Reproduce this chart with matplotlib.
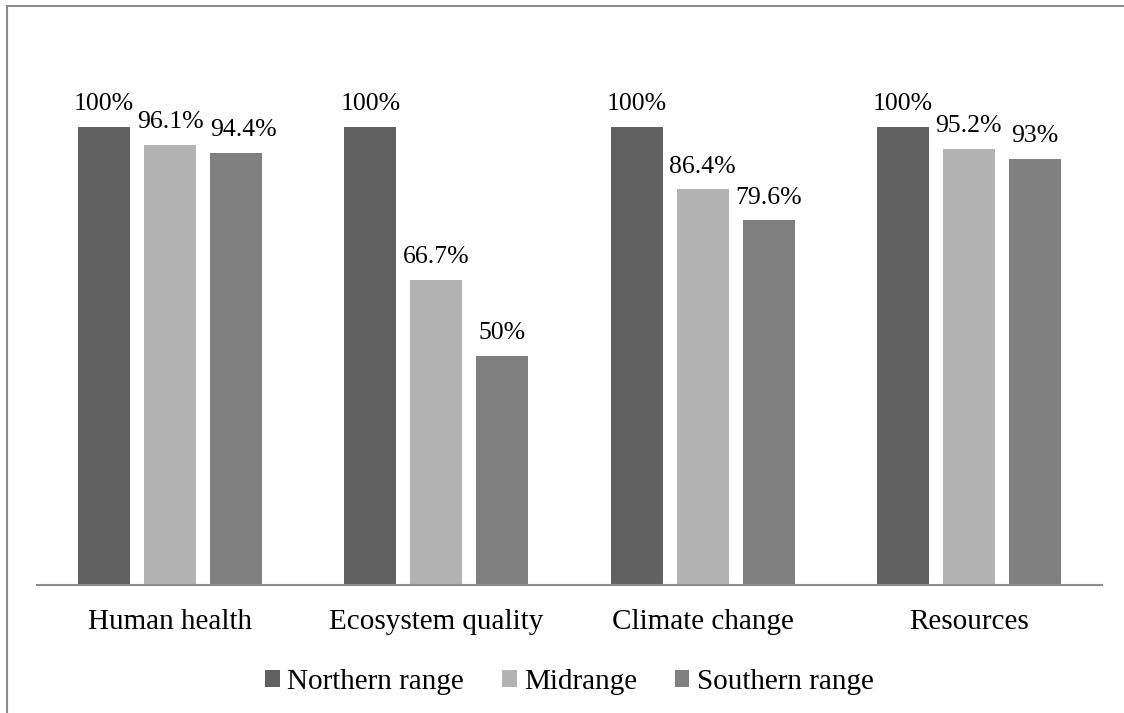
import numpy as np
import matplotlib.pyplot as plt
from matplotlib.patches import Rectangle

categories = ["Human health", "Ecosystem quality", "Climate change", "Resources"]
series = ["Northern range", "Midrange", "Southern range"]
northern = [100, 100, 100, 100]
midrange = [96.1, 66.7, 86.4, 95.2]
southern = [94.4, 50, 79.6, 93]
labels = [["100%", "100%", "100%", "100%"],
          ["96.1%", "66.7%", "86.4%", "95.2%"],
          ["94.4%", "50%", "79.6%", "93%"]]

colors = ["#616161", "#b3b3b3", "#808080"]

plt.rcParams['font.family'] = ['Liberation Serif', 'DejaVu Serif']

fig = plt.figure(figsize=(11.24, 7.13), dpi=100)
ax = fig.add_axes([37/1124, 1 - 585/713, 1065/1124, 1.2*458/713])

# outer frame (cut off at right and bottom)
fig.patches.append(Rectangle((7/1124, -0.1), 1.2, 0.1 + 1 - 6/713,
                             transform=fig.transFigure, fill=False,
                             edgecolor="#8c8c8c", linewidth=1.5))

x = np.arange(len(categories))
w = 52/266.25
step = 66/266.25
for i, vals in enumerate([northern, midrange, southern]):
    bars = ax.bar(x + (i - 1)*step, vals, width=w, color=colors[i], label=series[i])
    for j, (b, txt) in enumerate(zip(bars, labels[i])):
        # push the crowded last label of the first group a bit right
        dx = 5 if (i == 2 and j == 0) else 0
        ax.annotate(txt, (b.get_x() + b.get_width()/2, b.get_height()),
                    xytext=(dx, 12), textcoords="offset points",
                    ha="center", va="baseline", fontsize=18.5)

ax.set_xlim(-0.5, 3.5)
ax.set_ylim(0, 120)
ax.set_xticks(x)
ax.set_xticklabels(categories, fontsize=21)
ax.tick_params(axis="x", length=0, pad=17)
ax.set_yticks([])
for s in ["top", "right", "left"]:
    ax.spines[s].set_visible(False)
ax.spines["bottom"].set_color("#8c8c8c")
ax.spines["bottom"].set_linewidth(1.5)

ax.legend(loc="upper center", bbox_to_anchor=(0.5, -0.105), ncol=3, frameon=False,
          fontsize=21, handlelength=0.5, handleheight=0.5, handletextpad=0.25,
          columnspacing=1.3)

fig.savefig("out.png", dpi=100)
